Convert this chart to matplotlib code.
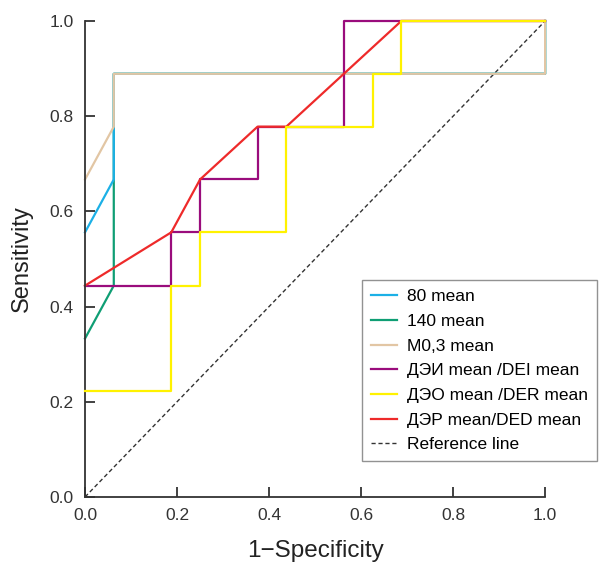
import matplotlib.pyplot as plt

plt.rcParams['font.family'] = ['Liberation Sans', 'DejaVu Sans']

# ROC curves (1-specificity, sensitivity)
x_80 = [0.0, 0.0625, 0.0625, 1.0, 1.0]
y_80 = [0.556, 0.667, 0.889, 0.889, 1.0]

x_140 = [0.0, 0.0625, 0.0625, 1.0, 1.0]
y_140 = [0.333, 0.444, 0.889, 0.889, 1.0]

x_m03 = [0.0, 0.0625, 0.0625, 1.0, 1.0]
y_m03 = [0.667, 0.778, 0.889, 0.889, 1.0]

x_dei = [0.0, 0.1875, 0.1875, 0.25, 0.25, 0.375, 0.375, 0.5625, 0.5625, 1.0]
y_dei = [0.444, 0.444, 0.556, 0.556, 0.667, 0.667, 0.778, 0.778, 1.0, 1.0]

x_der = [0.0, 0.1875, 0.1875, 0.25, 0.25, 0.4375, 0.4375, 0.625, 0.625, 0.6875, 0.6875, 1.0]
y_der = [0.222, 0.222, 0.444, 0.444, 0.556, 0.556, 0.778, 0.778, 0.889, 0.889, 1.0, 1.0]

x_ded = [0.0, 0.1875, 0.25, 0.375, 0.4375, 0.6875, 1.0]
y_ded = [0.444, 0.556, 0.667, 0.778, 0.778, 1.0, 1.0]

labels = ["80 mean", "140 mean", "M0,3 mean", "ДЭИ mean /DEI mean",
          "ДЭО mean /DER mean", "ДЭР mean/DED mean", "Reference line"]
colors = ["#1cb0e6", "#0f9e74", "#e2c6a4", "#9a0c7c", "#fff200", "#ee2a2a"]
# drawing order so the overlaps look like the original
zorders = [2.2, 2.1, 2.3, 2.4, 2.6, 2.5]

fig = plt.figure(figsize=(6.03, 5.67), dpi=100)
ax = fig.add_axes([0.141, 0.1235, 0.763, 0.8395])

series = [(x_80, y_80), (x_140, y_140), (x_m03, y_m03),
          (x_dei, y_dei), (x_der, y_der), (x_ded, y_ded)]
for (xs, ys), c, lab, z in zip(series, colors, labels, zorders):
    ax.plot(xs, ys, color=c, lw=1.6, label=lab, zorder=z, clip_on=False)
ax.plot([0, 1], [0, 1], color="#333333", lw=1.0, ls=(0, (3, 2)), label=labels[-1], zorder=2.0)

ax.set_xlim(0, 1)
ax.set_ylim(0, 1)
ax.set_xticks([0, 0.2, 0.4, 0.6, 0.8, 1.0])
ax.set_yticks([0, 0.2, 0.4, 0.6, 0.8, 1.0])
ax.xaxis.set_major_formatter(plt.FormatStrFormatter('%.1f'))
ax.yaxis.set_major_formatter(plt.FormatStrFormatter('%.1f'))
ax.tick_params(direction='in', length=7, width=1.3, labelsize=12.5, colors='#333333', pad=8)
for s in ['top', 'right']:
    ax.spines[s].set_visible(False)
for s in ['left', 'bottom']:
    ax.spines[s].set_linewidth(1.3)
    ax.spines[s].set_color('#333333')

ax.set_xlabel("1\u2212Specificity", fontsize=17.5, labelpad=12, color='#222222')
ax.set_ylabel("Sensitivity", fontsize=17, labelpad=12, color='#222222')

leg = ax.legend(loc='upper left', bbox_to_anchor=(0.602, 0.455), fontsize=12.5,
                frameon=True, fancybox=False, edgecolor='#777777',
                handlelength=1.5, handletextpad=0.6, labelspacing=0.55,
                borderpad=0.5, borderaxespad=0)
leg.get_frame().set_linewidth(1.0)

fig.savefig("out.png", dpi=100)
